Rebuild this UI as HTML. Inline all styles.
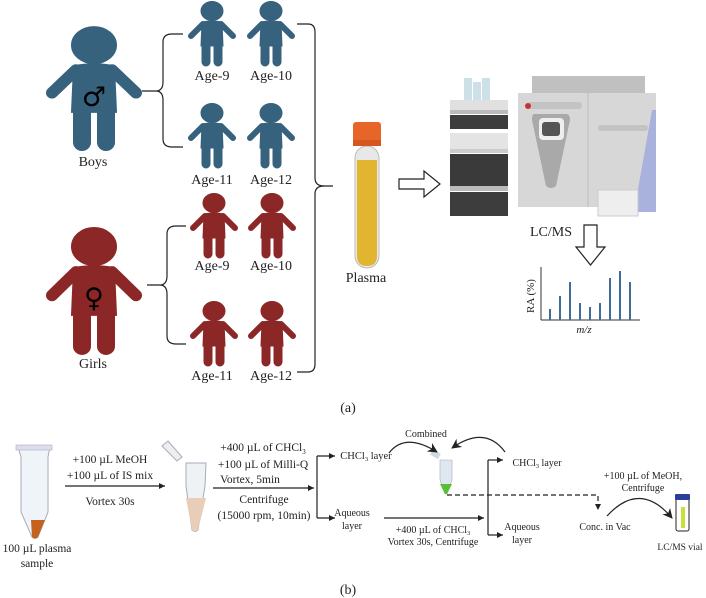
<!DOCTYPE html>
<html><head><meta charset="utf-8"><style>
html,body{margin:0;padding:0;background:#fff;}
svg{display:block;font-family:"Liberation Serif",serif;}
</style></head><body>
<svg width="706" height="598" viewBox="0 0 706 598" xmlns="http://www.w3.org/2000/svg">
<defs>
<symbol id="p" viewBox="0 0 48 64" overflow="visible" preserveAspectRatio="none">
<ellipse cx="24" cy="9" rx="11" ry="9.5"/>
<path d="M14 20 Q24 18 34 20 L35 44 L13 44 Z"/>
<line x1="15" y1="22" x2="3" y2="34" stroke-width="6" stroke-linecap="round"/>
<line x1="33" y1="22" x2="45" y2="34" stroke-width="6" stroke-linecap="round"/>
<rect x="14" y="38" width="8" height="26" rx="4"/>
<rect x="26" y="38" width="8" height="26" rx="4"/>
</symbol>
<marker id="ah" markerWidth="8" markerHeight="8" refX="6" refY="3" orient="auto" markerUnits="userSpaceOnUse"><path d="M0 0 L6 3 L0 6 Z" fill="#222"/></marker>
<marker id="ah2" markerWidth="12" markerHeight="12" refX="9" refY="5" orient="auto" markerUnits="userSpaceOnUse"><path d="M0 0 L10 5 L0 10 L3 5 Z" fill="#222"/></marker>
</defs>

<g fill="#36627e" stroke="#36627e">
<use href="#p" x="46" y="28" width="96" height="122"/>
<use href="#p" x="188" y="2" width="48" height="64"/>
<use href="#p" x="247" y="2" width="48" height="64"/>
<use href="#p" x="188" y="104" width="48" height="64"/>
<use href="#p" x="247" y="104" width="48" height="64"/>
</g>
<g fill="#8b2727" stroke="#8b2727">
<use href="#p" x="46" y="229" width="96" height="125"/>
<use href="#p" x="190" y="194" width="48" height="64"/>
<use href="#p" x="248" y="194" width="48" height="64"/>
<use href="#p" x="190" y="302" width="48" height="64"/>
<use href="#p" x="248" y="302" width="48" height="64"/>
</g>
<text x="94" y="106" font-size="27" text-anchor="middle" fill="#000" font-family="DejaVu Sans,sans-serif">♂</text>
<text x="94" y="307" font-size="27" text-anchor="middle" fill="#000" font-family="DejaVu Sans,sans-serif">♀</text>

<g font-size="14" fill="#222" text-anchor="middle">
<text x="93" y="166">Boys</text>
<text x="93" y="368">Girls</text>
<text x="212" y="80">Age-9</text><text x="271" y="80">Age-10</text>
<text x="212" y="184">Age-11</text><text x="271" y="184">Age-12</text>
<text x="212" y="270">Age-9</text><text x="271" y="270">Age-10</text>
<text x="212" y="380">Age-11</text><text x="271" y="380">Age-12</text>
<text x="366" y="282">Plasma</text>
<text x="551" y="236">LC/MS</text>
<text x="348" y="412">(a)</text>
<text x="348" y="594">(b)</text>
</g>

<g fill="none" stroke="#222" stroke-width="1.2">
<path d="M142 91 L157 91 Q163 90 163 82 L163 42 Q163 34 172 34 L183 34"/>
<path d="M157 91 Q163 92 163 100 L163 139 Q163 147 172 147 L183 147"/>
<path d="M147 285 L161 285 Q167 284 167 276 L167 234 Q167 226 176 226 L186 226"/>
<path d="M161 285 Q167 286 167 294 L167 336 Q167 344 176 344 L186 344"/>
<path d="M297 24 L308 24 Q315 24 315 32 L315 178 Q315 186 324 186 L333 186"/>
<path d="M324 186 Q315 186 315 194 L315 364 Q315 372 308 372 L297 372"/>
</g>

<rect x="355" y="146" width="24" height="122" rx="12" fill="#e8e8e8" stroke="#bbb"/>
<path d="M357 160 L377 160 L377 256 Q377 266 367 266 Q357 266 357 256 Z" fill="#e1b530"/>
<rect x="353" y="122" width="28" height="24" rx="3" fill="#e8652a"/>
<rect x="353" y="140" width="28" height="6" fill="#d5561f"/>

<path d="M399 179 L424 179 L424 171 L440 184 L424 197 L424 189 L399 189 Z" fill="#fff" stroke="#222" stroke-width="1.2"/>
<path d="M584 225 L597 225 L597 247 L605 247 L590.5 265 L576 247 L584 247 Z" fill="#fff" stroke="#222" stroke-width="1.2"/>

<rect x="464" y="78" width="8" height="22" fill="#cde0e8"/><rect x="473" y="82" width="8" height="18" fill="#cde0e8"/><rect x="482" y="78" width="8" height="22" fill="#cde0e8"/>
<rect x="450" y="100" width="58" height="10" fill="#e0e0e0"/>
<rect x="450" y="115" width="58" height="14" fill="#3d3d3d"/>
<rect x="450" y="133" width="58" height="16" fill="#e4e4e4"/>
<rect x="450" y="154" width="58" height="32" fill="#3a3a3a"/>
<rect x="450" y="192" width="58" height="24" fill="#3d3d3d"/>
<rect x="450" y="110" width="58" height="4" fill="#bbb"/><rect x="450" y="149" width="58" height="4" fill="#ccc"/><rect x="450" y="186" width="58" height="5" fill="#bbb"/>
<rect x="532" y="76" width="113" height="17" fill="#c0c0c0"/>
<rect x="518" y="93" width="138" height="114" fill="#d7d7d7"/>
<line x1="588" y1="93" x2="588" y2="207" stroke="#bbb"/>
<path d="M652 110 L656 110 L656 212 L634 212 Z" fill="#a9b1dd"/>
<rect x="527" y="102" width="55" height="7" rx="3.5" fill="#c3c3c3"/>
<circle cx="528" cy="106" r="3" fill="#c9312f"/>
<path d="M534 114 L566 114 Q570 114 570 120 L556 186 Q551 190 546 186 L532 120 Q532 114 534 114Z" fill="#a9a9a9"/>
<rect x="539" y="118" width="25" height="22" rx="4" fill="#eee"/><rect x="542" y="122" width="18" height="14" rx="3" fill="#555"/>
<rect x="598" y="125" width="50" height="6" rx="3" fill="#c3c3c3"/>
<rect x="598" y="190" width="40" height="26" fill="#eee" stroke="#ccc"/>

<line x1="541" y1="267" x2="541" y2="320" stroke="#333"/>
<line x1="541" y1="320" x2="640" y2="320" stroke="#333"/>
<g stroke="#3d6d98" stroke-width="2">
<line x1="550" y1="309" x2="550" y2="320"/><line x1="560" y1="296" x2="560" y2="320"/><line x1="570" y1="282" x2="570" y2="320"/>
<line x1="580" y1="303" x2="580" y2="320"/><line x1="590" y1="307" x2="590" y2="320"/><line x1="600" y1="303" x2="600" y2="320"/>
<line x1="610" y1="278" x2="610" y2="320"/><line x1="620" y1="271" x2="620" y2="320"/><line x1="630" y1="282" x2="630" y2="320"/>
</g>
<text transform="translate(534 296) rotate(-90)" font-size="11" text-anchor="middle" fill="#222">RA (%)</text>
<text x="584" y="333" font-size="11" font-style="italic" text-anchor="middle" fill="#222">m/z</text>

<g>
<path d="M18 447 L50 447 L48 457 L48 512 L38 537 Q35 540 32 537 L21 512 L21 457 Z" fill="#eef4f7" stroke="#aab"/>
<path d="M31 520 L45 520 L38 537 Q35 540 32 537 Z" fill="#c4621e"/>
<rect x="16" y="445" width="36" height="5" fill="#dde" stroke="#aab" stroke-width="0.6"/>
<path d="M186 463 L206 463 L205 486 L198 530 Q195 533 192 530 L186 486 Z" fill="#eef2f4" stroke="#aab"/>
<path d="M186 498 L206 498 L198 530 Q195 533 192 530 Z" fill="#e8cdb8"/>
<path d="M162 446 L168 441 L182 457 L177 461 Z" fill="#eee" stroke="#aab"/>
<path d="M440 460 L452 460 L452 480 L447 494 L445 494 L440 480 Z" fill="#dfe8ee" stroke="#aab" stroke-width="0.6"/>
<path d="M440 484 L452 484 L447 494 L445 494 Z" fill="#5abf35"/>
<rect x="431" y="451" width="9" height="6" fill="#cfd9e0" transform="rotate(30 435 454)"/>
<rect x="676" y="497" width="13" height="34" rx="2" fill="#fff" stroke="#222"/>
<rect x="681" y="507" width="4" height="21" fill="#c7e03c"/>
<rect x="675" y="494" width="15" height="6" rx="1" fill="#2b3e9a"/>
</g>

<g fill="none" stroke="#222" stroke-width="1.2">
<line x1="65" y1="486" x2="165" y2="486" marker-end="url(#ah)"/>
<line x1="213" y1="488" x2="314" y2="488" marker-end="url(#ah)"/>
<path d="M317 456 L317 518"/>
<line x1="317" y1="456" x2="335" y2="456" marker-end="url(#ah)"/>
<line x1="317" y1="518" x2="335" y2="518" marker-end="url(#ah)"/>
<line x1="384" y1="518" x2="484" y2="518" marker-end="url(#ah)"/>
<path d="M488 460 L488 535"/>
<line x1="488" y1="460" x2="503" y2="460" marker-end="url(#ah)"/>
<line x1="488" y1="535" x2="503" y2="535" marker-end="url(#ah)"/>
<path d="M389 453 Q405 432 437 452" marker-end="url(#ah2)"/>
<path d="M505 452 Q485 425 452 448" marker-end="url(#ah2)"/>
<path d="M447 495 L598 495 L598 510" stroke-dasharray="5 3" marker-end="url(#ah)"/>
<path d="M607 516 Q640 480 672 518" marker-end="url(#ah2)"/>
</g>

<g font-size="11.5" fill="#222" text-anchor="middle">
<text x="37" y="552">100 µL plasma</text><text x="37" y="567">sample</text>
<text x="110" y="463">+100 µL MeOH</text>
<text x="110" y="479">+100 µL of IS mix</text>
<text x="110" y="505">Vortex 30s</text>
<text x="263" y="451">+400 µL of CHCl<tspan font-size="7" dy="3">3</tspan></text>
<text x="263" y="468">+100 µL of Milli-Q</text>
<text x="250" y="483">Vortex, 5min</text>
<text x="264" y="503">Centrifuge</text>
<text x="264" y="519">(15000 rpm, 10min)</text>
<text x="366" y="459" font-size="10.5">CHCl<tspan font-size="6.5" dy="2">3</tspan><tspan dy="-2"> layer</tspan></text>
<text x="352" y="516" font-size="10">Aqueous</text><text x="352" y="529" font-size="10">layer</text>
<text x="426" y="437" font-size="10">Combined</text>
<text x="537" y="466" font-size="10">CHCl<tspan font-size="6.5" dy="2">3</tspan><tspan dy="-2"> layer</tspan></text>
<text x="522" y="530" font-size="10">Aqueous</text><text x="522" y="543" font-size="10">layer</text>
<text x="433" y="533" font-size="10">+400 µL of CHCl<tspan font-size="6.5" dy="2">3</tspan></text>
<text x="433" y="545" font-size="10">Vortex 30s, Centrifuge</text>
<text x="605" y="530" font-size="10">Conc. in Vac</text>
<text x="643" y="479" font-size="10">+100 µL of MeOH,</text>
<text x="643" y="491" font-size="10">Centrifuge</text>
<text x="680" y="550" font-size="9.5">LC/MS vial</text>
</g>
</svg>
</body></html>
